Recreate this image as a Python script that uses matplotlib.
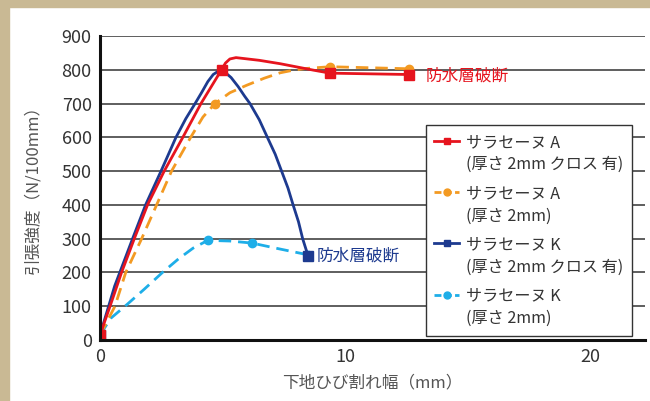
import matplotlib
matplotlib.use('Agg')
import matplotlib.pyplot as plt
from matplotlib.lines import Line2D
from matplotlib.legend_handler import HandlerLine2D
from matplotlib.patches import Rectangle

plt.rcParams['font.family'] = ['Noto Sans CJK JP', 'DejaVu Sans']

red_x = [0, 0.41, 0.88, 1.4, 1.94, 2.62, 3.38, 4.12, 4.96, 5.12, 5.3, 5.55, 6.5, 7.35, 8.7, 9.39, 12.6]
red_y = [15, 100, 200, 300, 400, 500, 600, 700, 800, 820, 832, 836, 828, 818, 799, 790, 786]
red_mk = [0, 8, 15, 16]

orange_x = [0, 0.61, 1.05, 1.7, 2.31, 2.92, 3.7, 4.2, 4.69, 5.3, 5.98, 6.7, 7.35, 7.9, 8.43, 9.39, 12.6]
orange_y = [15, 100, 200, 300, 400, 500, 600, 660, 700, 732, 754, 775, 791, 799, 804, 809, 803]
orange_mk = [0, 8, 15, 16]

blue_x = [0, 0.6, 1.33, 1.86, 2.49, 3.1, 3.5, 3.88, 4.15, 4.4, 4.62, 4.85, 5.08, 5.35, 5.64, 5.9, 6.12,
          6.5, 6.83, 7.15, 7.41, 7.67, 7.88, 8.1, 8.27, 8.4, 8.5]
blue_y = [15, 160, 300, 400, 500, 600, 655, 700, 733, 765, 786, 797, 794, 777, 750, 722, 700,
          652, 600, 550, 500, 450, 400, 350, 300, 270, 248]
blue_mk = [0, 26]

lblue_x = [0, 0.45, 1.1, 1.8, 2.55, 3.2, 3.8, 4.4, 5.3, 6.2, 7.3, 8.5]
lblue_y = [15, 65, 105, 150, 200, 240, 272, 295, 293, 287, 270, 252]
lblue_mk = [0, 7, 9, 11]

names = ['サラセーヌ A', 'サラセーヌ A', 'サラセーヌ K', 'サラセーヌ K']
notes = ['(厚さ 2mm クロス 有)', '(厚さ 2mm)', '(厚さ 2mm クロス 有)', '(厚さ 2mm)']

RED = '#e6141e'
ORANGE = '#f39a22'
BLUE = '#1d3a8f'
LBLUE = '#1eaee8'

fig = plt.figure(figsize=(6.5, 4.01), dpi=100)
fig.patch.set_facecolor('white')
# tan frame of the page
fig.patches.append(Rectangle((0, 0), 9 / 650, 1, transform=fig.transFigure,
                             color='#c9b994', zorder=-5))
fig.patches.append(Rectangle((0, 1 - 7 / 401), 1, 7 / 401, transform=fig.transFigure,
                             color='#c9b994', zorder=-5))

ax = fig.add_axes([100 / 650, 1 - 340 / 401, 545 / 650, 304 / 401])

lw = 2.0
ax.plot(lblue_x, lblue_y, color=LBLUE, lw=lw, ls=(0, (4.5, 2.5)),
        marker='o', ms=6, markevery=lblue_mk)
ax.plot(orange_x, orange_y, color=ORANGE, lw=lw, ls=(0, (4.5, 2.5)),
        marker='o', ms=6, markevery=orange_mk)
ax.plot(blue_x, blue_y, color=BLUE, lw=lw, marker='s', ms=6.5, markevery=blue_mk)
ax.plot(red_x, red_y, color=RED, lw=lw, marker='s', ms=6.5, markevery=red_mk)

ax.text(13.3, 782, '防水層破断', color=RED, fontsize=12, va='center')
ax.text(8.85, 248, '防水層破断', color=BLUE, fontsize=12, va='center')

ax.set_xlim(0, 22.24)
ax.set_ylim(0, 900)
ax.set_xticks([0, 10, 20])
ax.set_yticks(range(0, 1000, 100))
ax.tick_params(length=0, labelsize=13, colors='#333333', pad=6)
ax.yaxis.grid(True, color='#333333', lw=1.1)
ax.set_axisbelow(True)
for s in ['top', 'right']:
    ax.spines[s].set_visible(False)
for s in ['left', 'bottom']:
    ax.spines[s].set_linewidth(2.2)
    ax.spines[s].set_color('#111111')
    ax.spines[s].set_zorder(3)

ax.set_xlabel('下地ひび割れ幅（mm）', fontsize=12, color='#555555', labelpad=6)
ax.set_ylabel('引張強度（N/100mm）', fontsize=12, color='#555555')
ax.yaxis.set_label_coords(-0.108, 0.51)


class TopHandler(HandlerLine2D):
    # put the handle next to the first line of a two-line label
    def create_artists(self, legend, orig_handle, xdescent, ydescent,
                       width, height, fontsize, trans):
        return super().create_artists(legend, orig_handle, xdescent,
                                      ydescent - 1.7 * fontsize, width, height,
                                      fontsize, trans)


handles = [
    Line2D([], [], color=RED, lw=lw, marker='s', ms=5),
    Line2D([], [], color=ORANGE, lw=lw, ls=(0, (2.5, 1.2)), marker='o', ms=5),
    Line2D([], [], color=BLUE, lw=lw, marker='s', ms=5),
    Line2D([], [], color=LBLUE, lw=lw, ls=(0, (2.5, 1.2)), marker='o', ms=5),
]
labels = [n + '\n' + t for n, t in zip(names, notes)]
leg = ax.legend(handles, labels, loc='upper right', bbox_to_anchor=(0.976, 0.707),
                fontsize=11.6, frameon=True, fancybox=False, edgecolor='#333333',
                framealpha=1, handlelength=1.55, handletextpad=0.4,
                labelspacing=0.75, borderpad=0.55, borderaxespad=0,
                handler_map={Line2D: TopHandler()})
leg.get_frame().set_linewidth(1.0)
for t in leg.get_texts():
    t.set_color('#333333')
    t.set_linespacing(1.4)

fig.savefig('out.png', dpi=100)
